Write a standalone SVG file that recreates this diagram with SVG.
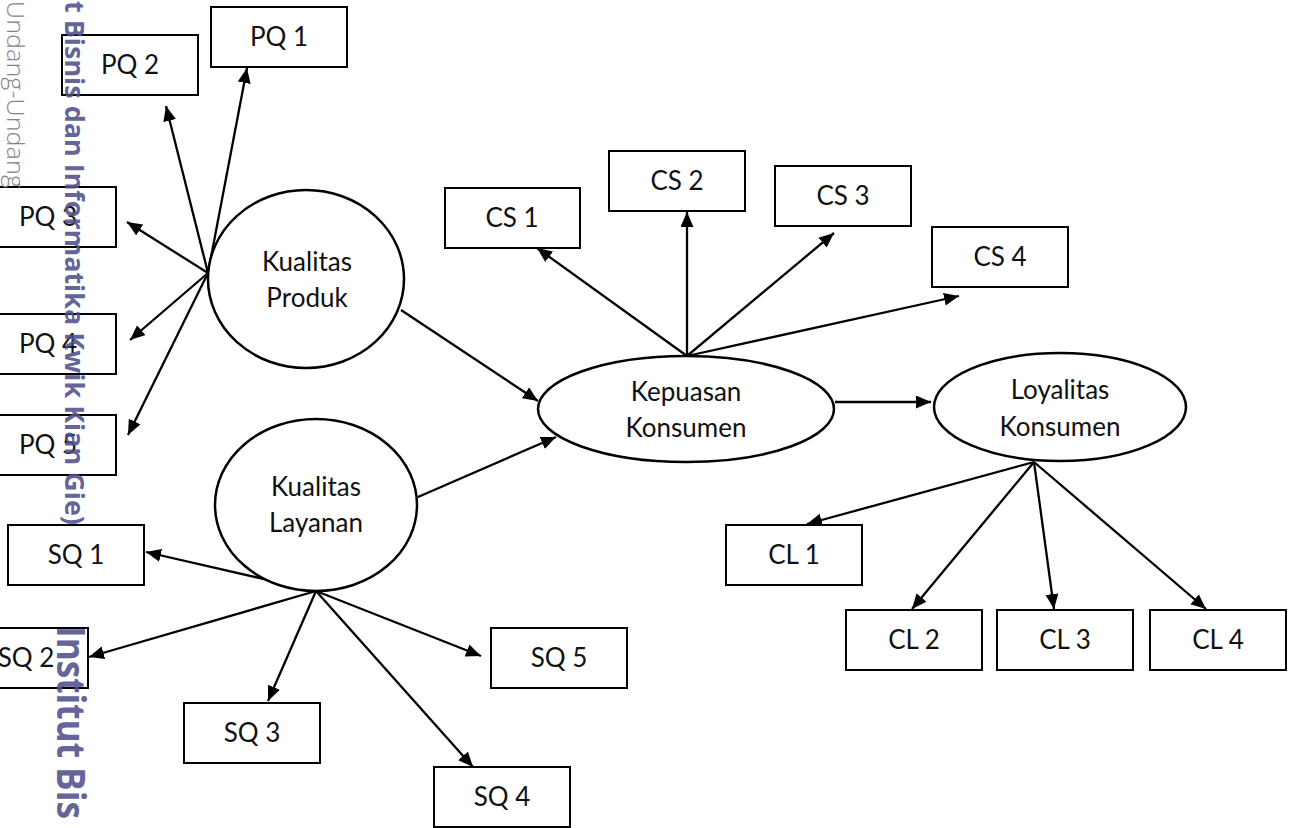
<svg xmlns="http://www.w3.org/2000/svg" width="1293" height="828" viewBox="0 0 1293 828">
<style>
.box{fill:#fff;stroke:#000;stroke-width:2}
.ell{fill:#fff;stroke:#000;stroke-width:2.5}
.lbl{font-family:Lato,"Open Sans",sans-serif;font-size:26px;fill:#111;text-anchor:middle}
.con line{stroke:#000;stroke-width:2.3;marker-end:url(#ah)}
.wm1{font-family:"Open Sans","DejaVu Sans",sans-serif;font-weight:300;font-size:23px;fill:#858585}
.wm2{font-family:"Open Sans","DejaVu Sans",sans-serif;font-weight:bold;fill:#50508c;fill-opacity:0.9}
</style>
<defs>
<marker id="ah" markerUnits="userSpaceOnUse" markerWidth="16" markerHeight="14" refX="15" refY="6.5" orient="auto">
<path d="M0,0 L15,6.5 L0,13 z" fill="#000"/>
</marker>
</defs>
<rect width="1293" height="828" fill="#fff"/>

<g class="con">
<line x1="208" y1="273" x2="247" y2="68"/>
<line x1="208" y1="273" x2="166" y2="106"/>
<line x1="208" y1="273" x2="127" y2="222"/>
<line x1="208" y1="273" x2="130" y2="340"/>
<line x1="208" y1="273" x2="128" y2="435"/>
<line x1="401" y1="310" x2="538" y2="401"/>
<line x1="418" y1="497" x2="556" y2="437"/>
<line x1="835" y1="402" x2="931" y2="402"/>
<line x1="687" y1="356" x2="537" y2="248"/>
<line x1="687" y1="356" x2="687" y2="212"/>
<line x1="687" y1="356" x2="834" y2="233"/>
<line x1="687" y1="356" x2="959" y2="296"/>
<line x1="1034" y1="462" x2="807" y2="524"/>
<line x1="1034" y1="462" x2="912" y2="609"/>
<line x1="1034" y1="462" x2="1054" y2="609"/>
<line x1="1034" y1="462" x2="1206" y2="609"/>
<line x1="316" y1="591" x2="146" y2="552"/>
<line x1="316" y1="591" x2="89" y2="657"/>
<line x1="316" y1="591" x2="268" y2="701"/>
<line x1="316" y1="591" x2="473" y2="767"/>
<line x1="316" y1="591" x2="481" y2="656"/>
</g>

<g id="n-pq1"><rect class="box" x="211" y="7" width="136" height="60"/><text class="lbl" x="279" y="46">PQ 1</text></g>
<g id="n-pq2"><rect class="box" x="62" y="35" width="136" height="60"/><text class="lbl" x="130" y="74">PQ 2</text></g>
<g id="n-pq3"><rect class="box" x="-20" y="187" width="136" height="60"/><text class="lbl" x="48" y="226">PQ 3</text></g>
<g id="n-pq4"><rect class="box" x="-20" y="314" width="136" height="60"/><text class="lbl" x="48" y="353">PQ 4</text></g>
<g id="n-pq5"><rect class="box" x="-20" y="415" width="136" height="60"/><text class="lbl" x="48" y="454">PQ 5</text></g>

<g id="n-sq1"><rect class="box" x="8" y="525" width="136" height="60"/><text class="lbl" x="76" y="564">SQ 1</text></g>
<g id="n-sq2"><rect class="box" x="-48" y="628" width="136" height="60"/><text class="lbl" x="26" y="667">SQ 2</text></g>
<g id="n-sq3"><rect class="box" x="184" y="703" width="136" height="60"/><text class="lbl" x="252" y="742">SQ 3</text></g>
<g id="n-sq4"><rect class="box" x="434" y="767" width="136" height="60"/><text class="lbl" x="502" y="806">SQ 4</text></g>
<g id="n-sq5"><rect class="box" x="491" y="628" width="136" height="60"/><text class="lbl" x="559" y="667">SQ 5</text></g>

<g id="n-cs1"><rect class="box" x="445" y="188" width="135" height="60"/><text class="lbl" x="512" y="227">CS 1</text></g>
<g id="n-cs2"><rect class="box" x="609" y="151" width="136" height="60"/><text class="lbl" x="677" y="190">CS 2</text></g>
<g id="n-cs3"><rect class="box" x="775" y="166" width="136" height="60"/><text class="lbl" x="843" y="205">CS 3</text></g>
<g id="n-cs4"><rect class="box" x="932" y="227" width="136" height="60"/><text class="lbl" x="1000" y="266">CS 4</text></g>

<g id="n-cl1"><rect class="box" x="726" y="525" width="136" height="60"/><text class="lbl" x="794" y="564">CL 1</text></g>
<g id="n-cl2"><rect class="box" x="846" y="610" width="136" height="60"/><text class="lbl" x="914" y="649">CL 2</text></g>
<g id="n-cl3"><rect class="box" x="997" y="610" width="136" height="60"/><text class="lbl" x="1065" y="649">CL 3</text></g>
<g id="n-cl4"><rect class="box" x="1150" y="610" width="136" height="60"/><text class="lbl" x="1218" y="649">CL 4</text></g>

<g id="n-kp"><ellipse class="ell" cx="306" cy="279" rx="98" ry="89"/><text class="lbl" x="307" y="271">Kualitas</text><text class="lbl" x="307" y="307">Produk</text></g>
<g id="n-kl"><ellipse class="ell" cx="316" cy="505" rx="101" ry="86"/><text class="lbl" x="316" y="496">Kualitas</text><text class="lbl" x="316" y="532">Layanan</text></g>
<g id="n-kk"><ellipse class="ell" cx="686" cy="409" rx="148" ry="53"/><text class="lbl" x="686" y="401">Kepuasan</text><text class="lbl" x="686" y="437">Konsumen</text></g>
<g id="n-lk"><ellipse class="ell" cx="1060" cy="407" rx="126" ry="54"/><text class="lbl" x="1060" y="399">Loyalitas</text><text class="lbl" x="1060" y="436">Konsumen</text></g>

<g id="watermark">
<text class="wm1" transform="translate(7,1) rotate(90)" textLength="187" lengthAdjust="spacingAndGlyphs">Undang-Undang</text>
<text class="wm2" font-size="27" transform="translate(65,1) rotate(90)" textLength="524" lengthAdjust="spacingAndGlyphs">t Bisnis dan Informatika Kwik Kian Gie)</text>
<text class="wm2" font-size="40" transform="translate(57,626) rotate(90) scale(0.88,1)">Institut Bis</text>
</g>
</svg>
